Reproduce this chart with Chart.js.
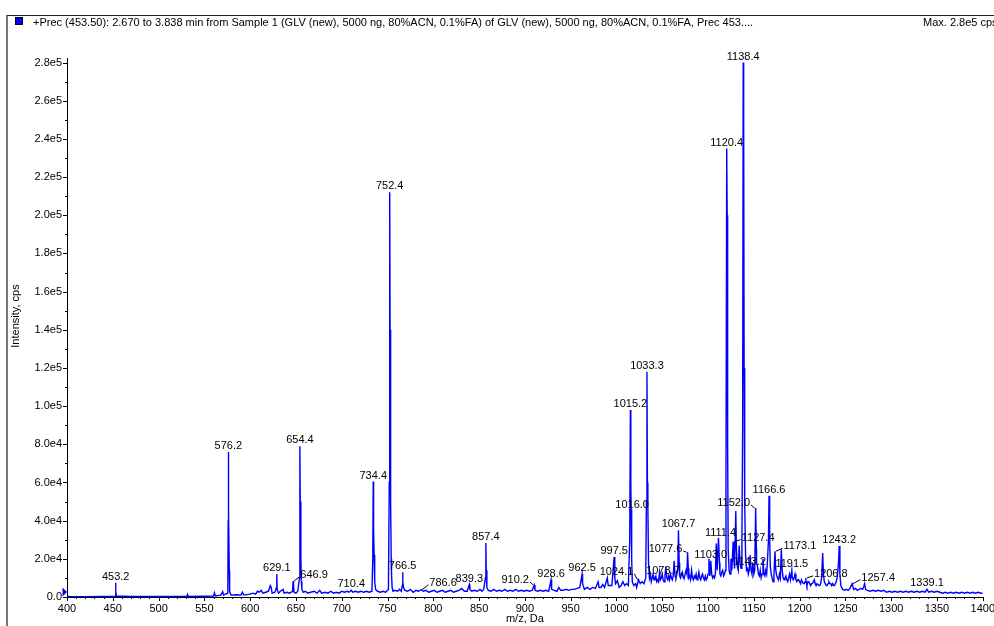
<!DOCTYPE html>
<html>
<head>
<meta charset="utf-8">
<script src="https://cdn.jsdelivr.net/npm/chart.js@4.4.1/dist/chart.umd.min.js"></script>
<style>
  html, body { margin: 0; padding: 0; background: #fff; overflow: hidden; }
  #spectrum { display: block; }
</style>
</head>
<body>
<canvas id="spectrum" width="1000" height="626"></canvas>
<script>
// spectrum profile: m/z (Da) and intensity (x1000 cps)
const mz = [
  400, 403, 420, 440, 452.5, 453.0, 453.2, 453.5, 454, 470, 500, 520, 531, 531.5, 532, 550,
  560, 561, 562, 568, 570, 571, 573, 575.6, 576.0, 576.2, 576.5, 577.2, 577.6, 579, 585, 590,
  591.5, 593, 600, 603, 606, 608, 610, 612, 614, 617, 620, 622, 623, 624, 627, 628.7,
  629.1, 629.5, 631, 633, 636, 637, 640, 643, 646.3, 646.9, 647.4, 648, 650, 652, 653.9, 654.2,
  654.4, 654.7, 655.4, 655.9, 656.5, 658, 660, 663, 666, 670, 673, 676, 678, 682, 685, 688,
  691, 694, 697, 700, 703, 706, 708, 710.4, 712, 715, 718, 721, 724, 727, 730, 733,
  733.9, 734.4, 734.8, 735.4, 736, 737, 739, 742, 745, 748, 751, 751.9, 752.4, 752.8, 753.4, 754.0,
  754.4, 755, 756, 758, 761, 763, 765, 766.1, 766.5, 766.9, 767.5, 769, 772, 775, 778, 781,
  784, 786.6, 789, 792, 795, 798, 801, 804, 807, 810, 813, 816, 819, 822, 825, 828,
  831, 834, 837, 839.3, 840, 842, 845, 848, 851, 853, 855, 856.9, 857.4, 857.8, 858.5, 860,
  863, 866, 869, 872, 875, 878, 881, 884, 887, 890, 893, 896, 899, 902, 905, 908,
  910.2, 911, 914, 917, 920, 923, 926, 928.6, 929.2, 932, 935, 937, 939, 942, 945, 948,
  951, 954, 957, 960, 962.5, 963, 965, 968, 971, 974, 977, 980, 981, 983, 985, 987,
  990, 991, 993, 995, 997.5, 998.2, 999, 1001, 1003, 1005, 1007, 1009, 1011, 1013, 1014.5, 1015.2,
  1015.7, 1016.0, 1016.6, 1017.3, 1019, 1021, 1022, 1024.1, 1026, 1028, 1030, 1032, 1032.7, 1033.3, 1033.8, 1034.3,
  1035, 1036, 1037, 1038, 1039, 1040, 1041, 1042, 1043, 1044, 1045, 1046, 1047, 1048, 1049, 1050,
  1051, 1052, 1053, 1054, 1055, 1056, 1057, 1058, 1059, 1060, 1061, 1062, 1063, 1064, 1065, 1066,
  1067, 1067.7, 1068.5, 1069, 1070, 1071, 1072, 1073, 1073.7, 1074, 1075, 1076, 1077, 1077.6, 1078.5, 1079,
  1080, 1081, 1082, 1083, 1084, 1085, 1086, 1087, 1088, 1089, 1090, 1091, 1092, 1093, 1094, 1095,
  1096, 1097, 1098, 1099, 1100, 1101, 1102, 1103.0, 1104, 1105, 1106, 1107, 1108, 1109, 1110, 1111.4,
  1112.5, 1113, 1114, 1115, 1116, 1117, 1118, 1119, 1119.6, 1120.4, 1120.9, 1121.4, 1122, 1123, 1124, 1125,
  1126, 1127.4, 1128, 1129, 1130.3, 1131, 1132, 1133, 1134, 1135, 1136, 1137, 1137.8, 1138.4, 1138.9, 1139.4,
  1140, 1141, 1142, 1143.2, 1144, 1145, 1146, 1147, 1148, 1149, 1150, 1151, 1152.0, 1152.8, 1153, 1154,
  1155, 1156, 1157, 1158, 1159, 1160, 1161, 1162, 1163, 1164, 1165, 1166, 1166.6, 1167.3, 1168, 1169,
  1170, 1171, 1172, 1173.1, 1174, 1175, 1176, 1177, 1178, 1179, 1180, 1181, 1182, 1183, 1184, 1185,
  1186, 1187, 1188, 1189, 1190, 1191.5, 1192, 1193, 1194, 1195, 1196, 1197, 1198, 1199, 1200, 1201,
  1202, 1203, 1204, 1205, 1206, 1206.8, 1207, 1208, 1209, 1210, 1211, 1212, 1213, 1214, 1215, 1216,
  1217, 1218, 1219, 1220, 1221, 1222, 1223, 1224, 1225.2, 1226, 1227, 1228, 1229, 1230, 1231, 1232,
  1233, 1234, 1235, 1236, 1237, 1238, 1239, 1240, 1241, 1242.5, 1243.2, 1244, 1245, 1247, 1249, 1251,
  1253, 1255, 1257.4, 1259, 1261, 1263, 1265, 1267, 1269, 1271, 1272, 1274, 1277, 1280, 1283, 1286,
  1289, 1292, 1295, 1298, 1301, 1304, 1307, 1310, 1313, 1316, 1319, 1322, 1325, 1328, 1331, 1334,
  1337, 1339.1, 1341, 1344, 1347, 1350, 1353, 1356, 1359, 1362, 1365, 1368, 1371, 1374, 1377, 1380,
  1383, 1386, 1389, 1392, 1395, 1398, 1400
];
const kcps = [
  0.5, 0.2, 0.2, 0.3, 0.4, 4, 7.5, 3, 0.5, 0.3, 0.3, 0.3, 0.3, 1.2, 0.3, 0.4,
  0.5, 2.2, 0.6, 1, 2.8, 1, 1.5, 2, 40, 76, 45, 14, 3, 1, 1.2, 1,
  2.5, 1, 1.5, 2, 1.5, 3, 2.5, 3.5, 2, 2.5, 3, 6, 5, 2, 2.5, 5,
  12, 4, 2, 3, 4, 2, 2.5, 2, 3, 8.4, 6, 2.5, 2, 3, 10, 50,
  79, 50, 20, 8, 4, 2.5, 3, 2, 2.5, 3, 2, 3.5, 2, 2.5, 2, 3,
  2, 2.5, 2, 3, 2.5, 3, 2.5, 3.5, 2.5, 3, 2.5, 3, 2.5, 3, 2.5, 3,
  20, 60.5, 35, 22, 8, 4, 3, 2.5, 3, 2.5, 4, 60, 212, 140, 50, 20,
  12, 5, 3, 3.5, 3, 4, 3, 6, 13, 8, 5, 3.5, 3, 4, 2.5, 3.5,
  3, 3.8, 3, 3.5, 2.5, 3, 3.5, 2.5, 3, 3.5, 2.5, 3, 3.5, 2.5, 3, 3.5,
  4.5, 3, 3, 6.5, 4, 3, 3.5, 3, 4, 3, 4, 10, 28.3, 14, 5, 3.5,
  3, 4, 3, 3.5, 3, 4, 3, 3.5, 3, 4, 3, 3.5, 3, 3.5, 3, 3.5,
  6.3, 3.5, 3, 3.5, 3, 3.5, 3, 9, 4, 3.5, 3, 5, 3.5, 3.5, 4, 3.5,
  4, 4, 4.5, 5, 12, 7, 4, 5, 4, 5, 4.5, 8, 5, 5, 6.5, 5,
  10, 6, 6, 6, 21, 10, 7, 8.5, 5, 6, 8, 6, 7, 6, 30, 98,
  60, 46, 20, 8, 6, 7, 5, 9, 7, 8, 7, 10, 50, 118, 60, 47,
  18, 10, 12, 8, 10, 12, 9, 10, 11, 8, 9, 8, 13, 9, 10, 12,
  9, 8, 11, 16, 10, 9, 11, 9, 12, 10, 9, 11, 19, 11, 10, 12,
  14, 35, 18, 11, 10, 12, 13, 10, 11, 10, 12, 14, 12, 23.5, 15, 10,
  11, 9, 14, 10, 9, 11, 10, 12, 9, 10, 13, 10, 9, 11, 12, 10,
  9, 11, 9, 10, 12, 20, 11, 19, 12, 10, 11, 10, 12, 28, 14, 31,
  18, 12, 11, 13, 14, 11, 12, 14, 60, 235, 200, 80, 25, 14, 12, 20,
  14, 29, 20, 15, 45, 25, 16, 14, 27, 18, 15, 30, 90, 280, 255, 120,
  50, 22, 14, 15, 12, 14, 22, 14, 12, 18, 12, 14, 46.6, 25, 18, 16,
  12, 11, 14, 10, 12, 20, 12, 11, 14, 12, 20, 30, 53, 30, 16, 12,
  10, 8, 12, 24, 14, 11, 10, 9, 12, 10, 25, 14, 10, 9, 10, 11,
  9, 8, 10, 12, 9, 14, 10, 9, 10, 12, 9, 8, 9, 9, 8, 7,
  9, 8, 7, 7, 8, 10, 8, 6, 8, 8, 7, 6, 7, 7, 8, 9,
  7, 6, 7, 7, 6, 6, 7, 10, 23, 12, 8, 7, 6, 6, 7, 8,
  7, 7, 6, 7, 6, 6, 7, 8, 10, 18, 26.7, 12, 6, 4, 3.5, 4,
  3.5, 4.5, 7, 4, 4.5, 3.5, 4, 4.5, 4, 7, 4, 3.5, 3, 3.5, 3, 3.5,
  3, 3.5, 2.5, 3, 2.5, 3, 2.5, 3, 2.5, 3, 2.5, 3, 2.5, 3, 2.5, 3,
  2.5, 4, 2.5, 3, 2.5, 3, 2.5, 2, 2.5, 2, 2.5, 2, 2.5, 2, 2.5, 2,
  2.5, 2, 2.5, 2, 2.5, 2, 2
];

// annotated peaks
const peakMz = [
  453.2, 576.2, 629.1, 646.9, 654.4, 710.4, 734.4, 752.4, 766.5, 786.6, 839.3, 857.4, 910.2,
  928.6, 962.5, 997.5, 1015.2, 1016.0, 1024.1, 1033.3, 1067.7, 1073.7, 1077.6, 1103.0, 1111.4,
  1120.4, 1127.4, 1138.4, 1143.2, 1152.0, 1166.6, 1173.1, 1191.5, 1206.8, 1243.2, 1257.4, 1339.1
];
// label text offsets in px [dx, dy] for labels that are pushed aside
const labelNudge = {
  '646.9': [21, -6], '786.6': [22, -7], '910.2': [-19, -5], '1016.0': [1, -4],
  '1024.1': [-22, -8], '1073.7': [-21, -5], '1077.6': [-22, -3], '1111.4': [2, -5],
  '1127.4': [25, -4], '1143.2': [2, -6], '1152.0': [-22, -5], '1173.1': [25, -5],
  '1206.8': [25, -4], '1257.4': [26, -6]
};

const yTicks = [0, 20000, 40000, 60000, 80000, 100000, 120000, 140000, 160000, 180000, 200000, 220000, 240000, 260000, 280000];

const FONT = '"Liberation Sans", Arial, sans-serif';
const titleText = '+Prec (453.50): 2.670 to 3.838 min from Sample 1 (GLV (new), 5000 ng, 80%ACN, 0.1%FA) of GLV (new), 5000 ng, 80%ACN, 0.1%FA, Prec 453....';

const points = mz.map((m, i) => ({ x: m, y: kcps[i] * 1000 }));

const decor = {
  id: 'decor',
  beforeDraw(chart) {
    const c = chart.ctx;
    c.save();
    c.fillStyle = '#fff';
    c.fillRect(0, 0, chart.width, chart.height);
    c.restore();
  },
  afterDraw(chart) {
    const c = chart.ctx;
    const xs = chart.scales.x, ys = chart.scales.y;
    const area = chart.chartArea;
    c.save();

    // frame
    c.strokeStyle = '#777';
    c.lineWidth = 2;
    c.beginPath(); c.moveTo(7, 15); c.lineTo(7, 626); c.stroke();
    c.strokeStyle = '#222';
    c.lineWidth = 1;
    c.beginPath(); c.moveTo(7, 15.5); c.lineTo(1000, 15.5); c.stroke();

    // header
    c.fillStyle = '#0000ff';
    c.fillRect(15, 17, 8, 8);
    c.strokeStyle = '#000';
    c.strokeRect(15.5, 17.5, 7, 7);
    c.fillStyle = '#000';
    c.font = '11px ' + FONT;
    c.textBaseline = 'middle';
    c.textAlign = 'left';
    c.fillText(titleText, 33, 23);
    c.fillText('Max. 2.8e5 cps', 923, 23);

    // axis titles
    c.textAlign = 'center';
    c.fillText('m/z, Da', (area.left + area.right) / 2, 619);
    c.save();
    c.translate(16, 316);
    c.rotate(-Math.PI / 2);
    c.fillText('Intensity, cps', 0, 0);
    c.restore();

    // tick marks
    c.strokeStyle = '#000';
    c.lineWidth = 1;
    c.beginPath();
    for (let v = 400; v <= 1400; v += 10) {
      const px = Math.round(xs.getPixelForValue(v)) + 0.5;
      const len = v % 50 === 0 ? 4 : 2;
      c.moveTo(px, area.bottom); c.lineTo(px, area.bottom + len);
    }
    for (let v = 0; v <= 280000; v += 10000) {
      const py = Math.round(ys.getPixelForValue(v)) + 0.5;
      const len = v % 20000 === 0 ? 4 : 2;
      c.moveTo(area.left - len, py); c.lineTo(area.left, py);
    }
    c.stroke();

    // start marker
    c.fillStyle = '#0000ff';
    c.beginPath();
    c.moveTo(62.5, 587.5); c.lineTo(62.5, 596.5); c.lineTo(67, 592); c.closePath();
    c.fill();

    // peak labels
    c.fillStyle = '#000';
    c.font = '11px ' + FONT;
    c.textAlign = 'center';
    c.textBaseline = 'middle';
    peakMz.forEach(m => {
      let best = 0, bestD = Infinity;
      mz.forEach((v, i) => { const d = Math.abs(v - m); if (d < bestD) { bestD = d; best = i; } });
      const px = xs.getPixelForValue(m);
      const py = ys.getPixelForValue(kcps[best] * 1000);
      const txt = m.toFixed(1);
      const nudge = labelNudge[txt] || [0, -6];
      const tx = px + nudge[0], ty = py + nudge[1];
      c.fillText(txt, tx, ty);
      if (Math.abs(nudge[0]) > 10) {
        const s = Math.sign(nudge[0]);
        const w = c.measureText(txt).width;
        c.beginPath();
        c.moveTo(px + s, py);
        c.lineTo(tx - s * (w / 2 + 1), ty + 2);
        c.stroke();
      }
    });
    c.restore();
  }
};

new Chart(document.getElementById('spectrum'), {
  type: 'line',
  data: {
    datasets: [{
      data: points,
      borderColor: '#0000ff',
      borderWidth: 1.4,
      pointRadius: 0,
      tension: 0,
      fill: false
    }]
  },
  options: {
    responsive: false,
    animation: false,
    devicePixelRatio: 1,
    layout: { padding: { top: 58, left: 0, right: 0, bottom: 0 } },
    plugins: { legend: { display: false }, tooltip: { enabled: false } },
    scales: {
      x: {
        type: 'linear',
        min: 400,
        max: 1400,
        afterFit: s => { s.height = 29; },
        grid: { drawOnChartArea: false, drawTicks: false },
        border: { color: '#000', width: 1 },
        ticks: {
          stepSize: 50,
          autoSkip: false,
          maxRotation: 0,
          padding: 5,
          color: '#000',
          font: { family: FONT, size: 11 },
          callback: v => String(v)
        }
      },
      y: {
        min: 0,
        max: 282400,
        afterFit: s => { s.width = 67; },
        afterBuildTicks: s => { s.ticks = yTicks.map(v => ({ value: v })); },
        grid: { drawOnChartArea: false, drawTicks: false },
        border: { color: '#000', width: 1 },
        ticks: {
          padding: 5,
          color: '#000',
          font: { family: FONT, size: 11 },
          callback: v => v === 0 ? '0.0' : v.toExponential(1).replace('e+', 'e')
        }
      }
    }
  },
  plugins: [decor]
});
</script>
</body>
</html>
